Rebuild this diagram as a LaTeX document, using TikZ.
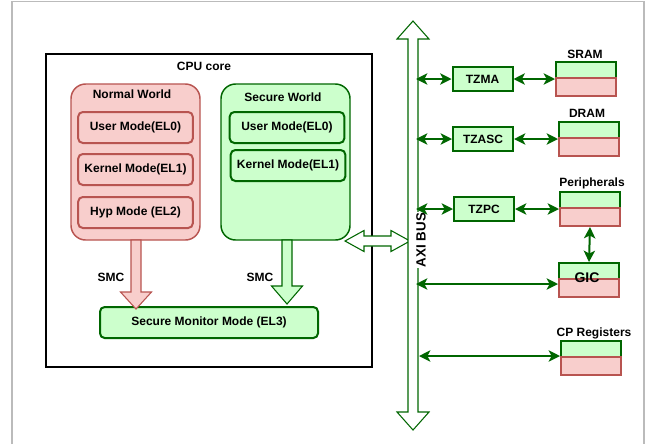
\documentclass[tikz,border=0pt]{standalone}
\usepackage{fontspec}
\setmainfont{Liberation Sans}
\usetikzlibrary{arrows.meta}
\definecolor{gfill}{HTML}{CCFFCC}
\definecolor{gline}{HTML}{006600}
\definecolor{rfill}{HTML}{F8CECC}
\definecolor{rline}{HTML}{B85450}
\definecolor{frame}{HTML}{BBBBBB}
\tikzset{
  lbl/.style={font=\fontsize{9}{11}\selectfont\bfseries, inner sep=0pt},
  world/.style={line width=1.1pt, rounded corners=11pt, inner sep=0pt},
  rworld/.style={world, draw=rline, fill=rfill},
  gworld/.style={world, draw=gline, fill=gfill},
  mode/.style={lbl, line width=1.5pt, rounded corners=3.5pt, minimum width=86pt, minimum height=23.25pt},
  rmode/.style={mode, draw=rline, fill=rfill},
  gmode/.style={mode, draw=gline, fill=gfill},
  tzbox/.style={lbl, draw=gline, fill=gfill, line width=1.5pt, minimum width=45pt, minimum height=18pt},
  memg/.style={draw=gline, fill=gfill, line width=1.5pt, minimum width=45pt, minimum height=12pt, inner sep=0pt},
  memr/.style={draw=rline, fill=rfill, line width=1.5pt, minimum width=45pt, minimum height=13.5pt, inner sep=0pt},
  blockarrow/.style={line width=0.8pt, line join=miter},
  conn/.style={gline, line width=1.5pt, {Stealth[length=8.5pt,width=8.5pt,inset=2.2pt]}-{Stealth[length=8.5pt,width=8.5pt,inset=2.2pt]}}
}
\begin{document}
\begin{tikzpicture}[x=0.75pt,y=-0.75pt]
\useasboundingbox (0,0) rectangle (648,444);
\fill[white] (0,0) rectangle (648,444);
\draw[frame, line width=1.1pt] (12,444) -- (12,1.5) -- (644,1.5) -- (644,444);

% CPU core
\node[draw=black, line width=1.5pt, minimum width=244.5pt, minimum height=234.75pt, inner sep=0pt] (cpu) at (209,210.5) {};
\node[lbl] (cpulbl) at (204,66) {CPU core};

% Normal world
\node[rworld, minimum width=96.75pt, minimum height=117pt] (nw) at (135.5,162) {};
\node[lbl] (nwlbl) at (132,94) {Normal World};
\node[rmode] (nwuser) at (135.5,127.5) {User Mode(EL0)};
\node[rmode] (nwkern) at (135.5,169.5) {Kernel Mode(EL1)};
\node[rmode] (nwhyp) at (135.5,212.5) {Hyp Mode (EL2)};

% Secure world
\node[gworld, minimum width=96.75pt, minimum height=117pt] (sw) at (285.5,162) {};
\node[lbl] (swlbl) at (283,97) {Secure World};
\node[gmode] (swuser) at (287,127.5) {User Mode(EL0)};
\node[gmode] (swkern) at (288,165.5) {Kernel Mode(EL1)};

% Secure monitor
\node[gmode, minimum width=163.5pt] (mon) at (209,322.5) {Secure Monitor Mode (EL3)};

% SMC arrows
\draw[blockarrow, draw=rline, fill=rfill] (131,240) -- (131,292) -- (120.5,292) -- (136,309) -- (151.5,292) -- (141,292) -- (141,240) -- cycle;
\draw[blockarrow, draw=gline, fill=gfill] (282,240) -- (282,286) -- (271.5,286) -- (287,304) -- (302.5,286) -- (292,286) -- (292,240) -- cycle;
\node[lbl] (smc1) at (111,277) {SMC};
\node[lbl] (smc2) at (260,277) {SMC};

% CPU <-> bus block arrow
\draw[blockarrow, draw=gline, fill=white] (345,241) -- (364,230.5) -- (364,236) -- (391,236) -- (391,230.5) -- (410,241) -- (391,251.5) -- (391,246) -- (364,246) -- (364,251.5) -- cycle;

% AXI bus
\draw[blockarrow, draw=gline, fill=white] (408,412) -- (408,39) -- (397,39) -- (413,21) -- (429,39) -- (418,39) -- (418,412) -- (429,412) -- (413,430) -- (397,412) -- cycle;
\node[lbl, font=\fontsize{10}{12}\selectfont\bfseries, rotate=90, fill=white, inner sep=1pt] (axi) at (421,240) {AXI BUS};

% TrustZone controllers
\node[tzbox] (tzma) at (482.5,79) {TZMA};
\node[tzbox] (tzasc) at (483,139) {TZASC};
\node[tzbox] (tzpc) at (484,209) {TZPC};

% memories / devices
\node[memg] (sramg) at (586,70) {};
\node[memr] (sramr) at (586,87) {};
\node[lbl] (sramlbl) at (585,54) {SRAM};

\node[memg] (dramg) at (589,130) {};
\node[memr] (dramr) at (589,147) {};
\node[lbl] (dramlbl) at (587,113) {DRAM};

\node[memg] (perg) at (590,200) {};
\node[memr] (perr) at (590,217) {};
\node[lbl] (perlbl) at (592,183) {Peripherals};

\node[memg] (gicg) at (589,271) {};
\node[memr] (gicr) at (589,288) {};
\node[lbl, font=\fontsize{10.5}{12}\selectfont\bfseries] (giclbl) at (587,278) {GIC};

\node[memg] (cpg) at (591,349) {};
\node[memr] (cpr) at (591,366) {};
\node[lbl] (cplbl) at (594,333) {CP Registers};

% bus taps
\coordinate (b1) at (416,79);
\coordinate (b2) at (416,139);
\coordinate (b3) at (416,209);
\coordinate (b4) at (416,284);
\coordinate (b5) at (419,356);

\draw[conn] (b1) -- (tzma.west);
\draw[conn] (b2) -- (tzasc.west);
\draw[conn] (b3) -- (tzpc.west);
\draw[conn] (b4) -- (b4 -| gicr.west);
\draw[conn] (b5) -- (b5 -| cpg.west);

\draw[conn] (tzma.east) -- (tzma.east -| sramg.west);
\draw[conn] (tzasc.east) -- (tzasc.east -| dramg.west);
\draw[conn] (tzpc.east) -- (tzpc.east -| perg.west);
\draw[conn] (perr.south) -- (gicg.north);
\end{tikzpicture}
\end{document}
